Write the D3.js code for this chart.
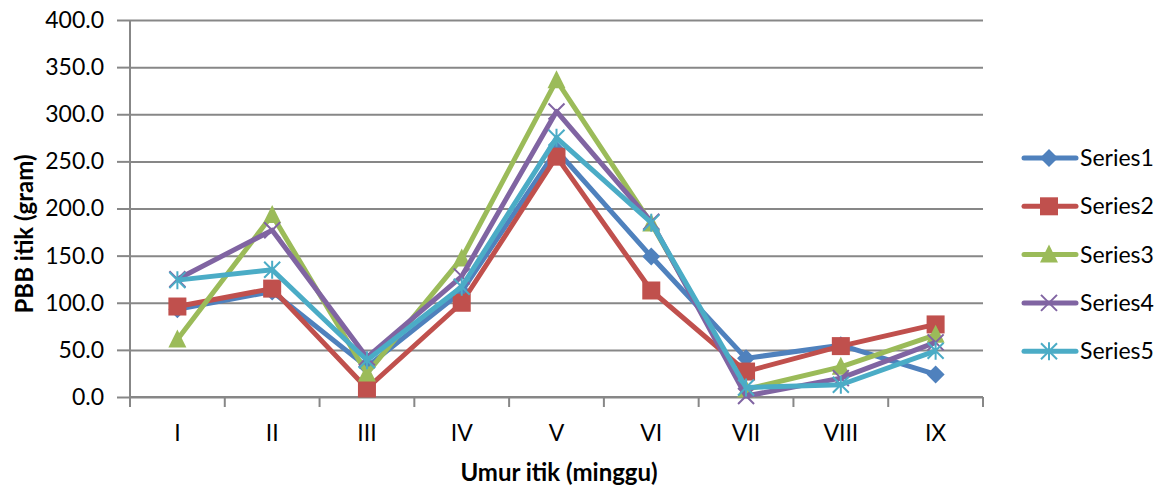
<!DOCTYPE html>
<html>
<head>
<meta charset="utf-8">
<script src="https://cdn.jsdelivr.net/npm/d3@7"></script>
<style>
  body { margin: 0; background: #fff; }
  text { font-family: Lato, "Open Sans", sans-serif; fill: #000; }
</style>
</head>
<body>
<div id="chart"></div>
<script>
var categories = ['I', 'II', 'III', 'IV', 'V', 'VI', 'VII', 'VIII', 'IX']
var seriesNames = ['Series1', 'Series2', 'Series3', 'Series4', 'Series5']
var series1 = [93, 112, 32, 112, 262, 149, 41, 55, 24]
var series2 = [96, 115, 9, 100, 255, 113, 27, 54, 77]
var series3 = [61, 193, 25, 147, 336, 184, 8, 32, 66]
var series4 = [125, 177, 42, 128, 303, 186, 1, 20, 58]
var series5 = [124, 135, 39, 117, 275, 185, 10, 13, 49]
var yTicks = [0, 50, 100, 150, 200, 250, 300, 350, 400]

var colors = ['#4F81BD', '#C0504D', '#9BBB59', '#8064A2', '#4BACC6']
var shapes = ['diamond', 'square', 'triangle', 'x', 'star']
var allSeries = [series1, series2, series3, series4, series5]

var width = 1167
var height = 488
var margin = { top: 20, left: 130, right: 184, bottom: 91 }
var chartWidth = width - margin.left - margin.right
var chartHeight = height - margin.top - margin.bottom
var grid = '#878787'

var svg = d3.select('#chart').append('svg')
  .attr('width', width)
  .attr('height', height)

var inner = svg.append('g')
  .attr('transform', 'translate(' + margin.left + ',' + margin.top + ')')

var xScale = d3.scaleBand()
  .domain(categories)
  .range([0, chartWidth])

var yScale = d3.scaleLinear()
  .domain([0, 400])
  .range([chartHeight, 0])

// horizontal gridlines + y axis
var yAxis = inner.append('g')
  .call(d3.axisLeft(yScale)
    .tickValues(yTicks)
    .tickSize(-chartWidth)
    .tickPadding(26)
    .tickFormat(d3.format('.1f')))
yAxis.select('.domain').remove()
yAxis.selectAll('line').attr('stroke', grid).attr('stroke-width', 2)
yAxis.selectAll('text').style('font-size', '23px')
yAxis.selectAll('.tick').append('line')
  .attr('x1', -13).attr('x2', 0)
  .attr('stroke', grid).attr('stroke-width', 2)

inner.append('line')
  .attr('x1', 0).attr('x2', 0)
  .attr('y1', 0).attr('y2', chartHeight)
  .attr('stroke', grid).attr('stroke-width', 2)

// x axis with ticks at the band edges
var xAxis = inner.append('g')
  .attr('transform', 'translate(0,' + chartHeight + ')')
  .call(d3.axisBottom(xScale).tickSize(0).tickPadding(28))
xAxis.select('.domain').remove()
xAxis.selectAll('text').style('font-size', '23px')

inner.append('line')
  .attr('x1', 0).attr('x2', chartWidth)
  .attr('y1', chartHeight).attr('y2', chartHeight)
  .attr('stroke', grid).attr('stroke-width', 2)

var edges = categories.map(function(c) { return xScale(c) }).concat([chartWidth])
inner.selectAll('.xedge')
  .data(edges)
  .enter().append('line')
  .attr('class', 'xedge')
  .attr('x1', function(d) { return d }).attr('x2', function(d) { return d })
  .attr('y1', chartHeight).attr('y2', chartHeight + 10)
  .attr('stroke', grid).attr('stroke-width', 2)

// axis titles
svg.append('text')
  .attr('transform', 'translate(33,234) rotate(-90)')
  .style('text-anchor', 'middle')
  .style('font-size', '24px')
  .style('font-weight', 'bold')
  .text('PBB itik (gram)')

svg.append('text')
  .attr('x', 559)
  .attr('y', 481)
  .style('text-anchor', 'middle')
  .style('font-size', '24px')
  .style('font-weight', 'bold')
  .text('Umur itik (minggu)')

function drawMarker(g, shape, color, x, y, s) {
  if (shape == 'diamond') {
    g.append('path')
      .attr('d', 'M' + x + ',' + (y - s) + 'L' + (x + s) + ',' + y + 'L' + x + ',' + (y + s) + 'L' + (x - s) + ',' + y + 'Z')
      .attr('fill', color)
  } else if (shape == 'square') {
    g.append('rect')
      .attr('x', x - s).attr('y', y - s)
      .attr('width', 2 * s).attr('height', 2 * s)
      .attr('fill', color)
  } else if (shape == 'triangle') {
    g.append('path')
      .attr('d', 'M' + x + ',' + (y - s - 1) + 'L' + (x + s) + ',' + (y + s - 1) + 'L' + (x - s) + ',' + (y + s - 1) + 'Z')
      .attr('fill', color)
  } else if (shape == 'x') {
    g.append('path')
      .attr('d', 'M' + (x - s + 1) + ',' + (y - s + 1) + 'L' + (x + s - 1) + ',' + (y + s - 1) + 'M' + (x - s + 1) + ',' + (y + s - 1) + 'L' + (x + s - 1) + ',' + (y - s + 1))
      .attr('stroke', color).attr('stroke-width', 2)
  } else {
    g.append('path')
      .attr('d', 'M' + (x - s + 1) + ',' + (y - s + 1) + 'L' + (x + s - 1) + ',' + (y + s - 1) + 'M' + (x - s + 1) + ',' + (y + s - 1) + 'L' + (x + s - 1) + ',' + (y - s + 1) + 'M' + x + ',' + (y - s) + 'L' + x + ',' + (y + s))
      .attr('stroke', color).attr('stroke-width', 2)
  }
}

var line = d3.line()
  .x(function(d, i) { return xScale(categories[i]) + xScale.bandwidth() / 2 })
  .y(function(d) { return yScale(d) })

allSeries.forEach(function(data, k) {
  var g = inner.append('g')
  g.append('path')
    .datum(data)
    .attr('d', line)
    .attr('fill', 'none')
    .attr('stroke', colors[k])
    .attr('stroke-width', 5)
    .attr('stroke-linejoin', 'round')
  data.forEach(function(v, i) {
    drawMarker(g, shapes[k], colors[k], xScale(categories[i]) + xScale.bandwidth() / 2, yScale(v), 9)
  })
})

// legend
var legend = svg.append('g')
  .attr('transform', 'translate(1022,158)')
seriesNames.forEach(function(name, k) {
  var row = legend.append('g').attr('transform', 'translate(0,' + (k * 48.3) + ')')
  row.append('line')
    .attr('x1', 2).attr('x2', 54)
    .attr('stroke', colors[k]).attr('stroke-width', 5)
    .attr('stroke-linecap', 'round')
  drawMarker(row, shapes[k], colors[k], 27, 0, 9)
  row.append('text')
    .attr('x', 58).attr('y', 8)
    .style('font-size', '23px')
    .text(name)
})
</script>
</body>
</html>
